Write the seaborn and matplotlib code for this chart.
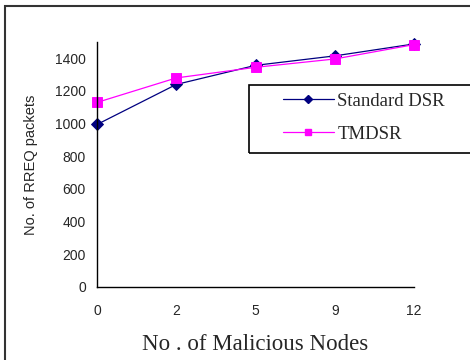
import matplotlib
matplotlib.use("Agg")
import matplotlib.pyplot as plt
import seaborn as sns
import pandas as pd
from matplotlib.patches import Rectangle
from matplotlib.lines import Line2D

# data
nodes = ["0", "2", "5", "9", "12"]
standard_dsr = [995, 1240, 1357, 1415, 1488]
tmdsr = [1130, 1280, 1345, 1396, 1484]

df = pd.DataFrame({
    "nodes": nodes * 2,
    "rreq": standard_dsr + tmdsr,
    "series": ["Standard DSR"] * len(nodes) + ["TMDSR"] * len(nodes),
})

sns.set_style("white")
plt.rcParams["font.family"] = ["Liberation Sans", "DejaVu Sans"]

fig = plt.figure(figsize=(4.7, 3.6), dpi=100)
ax = fig.add_axes([97 / 470, 1 - 287 / 360, (414 - 97) / 470, (287 - 42) / 360])

colors = {"Standard DSR": "#000080", "TMDSR": "#ff00ff"}
marks = {"Standard DSR": "D", "TMDSR": "s"}
sizes = {"Standard DSR": 6.5, "TMDSR": 7.5}
for name in ["Standard DSR", "TMDSR"]:
    sns.pointplot(data=df[df.series == name], x="nodes", y="rreq", order=nodes,
                  color=colors[name], marker=marks[name], markersize=sizes[name],
                  linewidth=0.9, errorbar=None, ax=ax)
for ln in ax.lines:
    ln.set_clip_on(False)

ax.set_xlim(0, len(nodes) - 1)
ax.set_ylim(0, 1500)
ax.set_yticks(range(0, 1401, 200))
ax.set_ylabel("No. of RREQ packets", fontsize=10.5, labelpad=12)
ax.set_xlabel("No . of Malicious Nodes", fontsize=16.5, family="Liberation Serif", labelpad=12)
ax.tick_params(axis="both", labelsize=10, length=4, width=1, direction="out",
               color="black", pad=4)
ax.tick_params(axis="x", pad=8)
for side in ["top", "right"]:
    ax.spines[side].set_visible(False)
for side in ["left", "bottom"]:
    ax.spines[side].set_color("black")
    ax.spines[side].set_linewidth(1)

# legend box
fig.patches.append(Rectangle((249 / 470, 1 - 153 / 360), 0.6, 68 / 360,
                             transform=fig.transFigure, fill=False,
                             edgecolor="black", linewidth=1.2))
handles = [Line2D([], [], color=colors[n], marker=marks[n], markersize=4.5,
                  linewidth=0.9) for n in ["Standard DSR", "TMDSR"]]
fig.legend(handles, ["Standard DSR", "TMDSR"], loc="center left",
           bbox_to_anchor=(283 / 470, 1 - 117.5 / 360), frameon=False,
           prop={"family": "Liberation Serif", "size": 13.5},
           handlelength=2.7, handletextpad=0.2, labelspacing=0.85,
           borderpad=0, borderaxespad=0)

# outer frame
fig.patches.append(Rectangle((5 / 470, -0.1), 1.2, 1.1 - 6 / 360,
                             transform=fig.transFigure, fill=False,
                             edgecolor="#333333", linewidth=1.5))

fig.savefig("out.png", dpi=100)
